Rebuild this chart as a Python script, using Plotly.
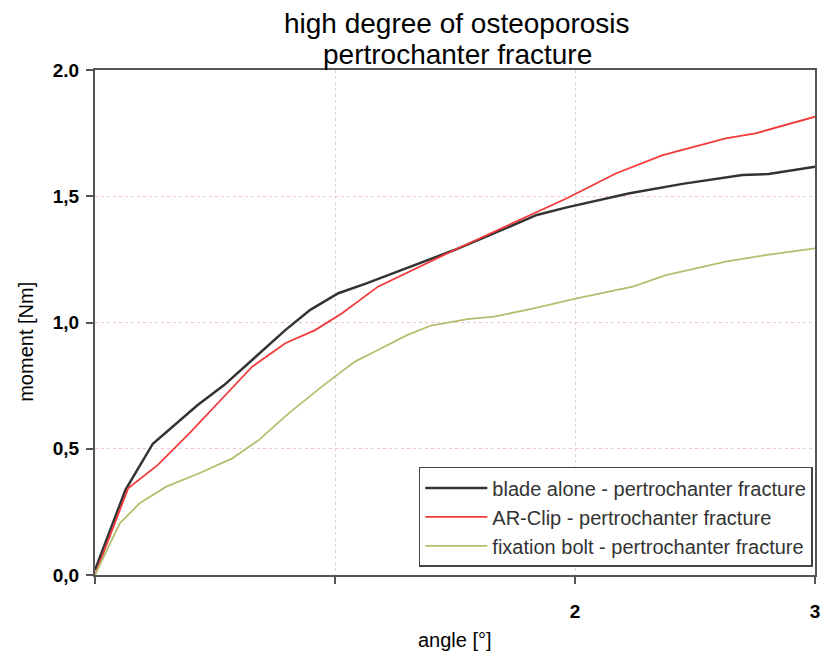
import plotly.graph_objects as go

# ---- data ----
blade_x = [0, 0.127, 0.241, 0.276, 0.428, 0.538, 0.662, 0.793, 0.897, 1.014, 1.131,
           1.317, 1.497, 1.662, 1.841, 1.966, 2.228, 2.448, 2.697, 2.807, 3.0]
blade_y = [0.02, 0.337, 0.52, 0.548, 0.673, 0.752, 0.858, 0.970, 1.05, 1.116, 1.155,
           1.221, 1.287, 1.353, 1.426, 1.456, 1.512, 1.549, 1.584, 1.588, 1.617]

clip_x = [0, 0.138, 0.262, 0.393, 0.531, 0.655, 0.793, 0.917, 1.028, 1.179, 1.497,
          1.662, 1.841, 1.966, 2.172, 2.366, 2.628, 2.752, 3.0]
clip_y = [0, 0.343, 0.436, 0.561, 0.70, 0.825, 0.918, 0.970, 1.036, 1.142, 1.287,
          1.36, 1.439, 1.492, 1.591, 1.663, 1.729, 1.749, 1.815]

bolt_x = [0, 0.103, 0.186, 0.297, 0.434, 0.572, 0.683, 0.807, 0.945, 1.083, 1.179,
          1.30, 1.40, 1.552, 1.662, 1.828, 2.007, 2.241, 2.379, 2.628, 2.793, 3.0]
bolt_y = [0, 0.205, 0.284, 0.35, 0.403, 0.462, 0.535, 0.64, 0.746, 0.845, 0.891,
          0.950, 0.988, 1.013, 1.023, 1.056, 1.096, 1.142, 1.188, 1.241, 1.267, 1.294]

series_names = ["blade alone - pertrochanter fracture",
                "AR-Clip - pertrochanter fracture",
                "fixation bolt - pertrochanter fracture"]

x_tickvals = [0, 1, 2, 3]
x_ticktext = ["", "", "2", "3"]
y_tickvals = [0, 0.5, 1.0, 1.5, 2.0]
y_ticktext = ["0,0", "0,5", "1,0", "1,5", "2.0"]

title_lines = ["high degree of osteoporosis", "pertrochanter fracture"]
x_title = "angle [°]"
y_title = "moment [Nm]"

FONT = "Liberation Sans, Arial, sans-serif"

fig = go.Figure()
fig.add_trace(go.Scatter(x=blade_x, y=blade_y, mode="lines", name=series_names[0],
                         line=dict(color="#333333", width=2.5)))
fig.add_trace(go.Scatter(x=clip_x, y=clip_y, mode="lines", name=series_names[1],
                         line=dict(color="#f23a3a", width=1.8)))
fig.add_trace(go.Scatter(x=bolt_x, y=bolt_y, mode="lines", name=series_names[2],
                         line=dict(color="#b3bf6e", width=1.8)))

fig.update_layout(
    width=829, height=670,
    margin=dict(l=95, r=9, t=70, b=95),
    paper_bgcolor="white", plot_bgcolor="white",
    font=dict(family=FONT, color="black"),
    showlegend=True,
    legend=dict(x=0.997, y=0.016, xanchor="right", yanchor="bottom",
                bgcolor="white", bordercolor="#444444", borderwidth=1.5,
                font=dict(size=20, color="#333333", family=FONT),
                tracegroupgap=0, itemwidth=62),
    xaxis=dict(range=[0, 3], tickmode="array", tickvals=x_tickvals, ticktext=x_ticktext,
               showline=True, linecolor="#555555", linewidth=2, mirror=True,
               ticks="outside", ticklen=7, tickcolor="#555555", tickwidth=2,
               showgrid=True, gridcolor="#d6d6d6", griddash="dot", gridwidth=1,
               zeroline=False,
               tickfont=dict(size=19, color="black", weight="bold"),
               ticklabelstandoff=11),
    yaxis=dict(range=[0, 2], tickmode="array", tickvals=y_tickvals, ticktext=y_ticktext,
               showline=True, linecolor="#555555", linewidth=2, mirror=True,
               ticks="outside", ticklen=7, tickcolor="#555555", tickwidth=2,
               showgrid=True, gridcolor="#f0c4cc", griddash="dot", gridwidth=1,
               zeroline=False,
               tickfont=dict(size=19, color="black", weight="bold"),
               ticklabelstandoff=3),
    annotations=[
        dict(text=title_lines[0], xref="paper", yref="paper", x=0.503, y=1.092,
             xanchor="center", yanchor="middle", showarrow=False,
             font=dict(size=28, family=FONT, color="black")),
        dict(text=title_lines[1], xref="paper", yref="paper", x=0.503, y=1.0305,
             xanchor="center", yanchor="middle", showarrow=False,
             font=dict(size=28, family=FONT, color="black")),
        dict(text=x_title, xref="paper", yref="paper", x=0.5, y=-0.129,
             xanchor="center", yanchor="middle", showarrow=False,
             font=dict(size=20, family=FONT, color="black")),
        dict(text=y_title, xref="paper", yref="paper", x=-0.095, y=0.461,
             xanchor="center", yanchor="middle", showarrow=False, textangle=-90,
             font=dict(size=20, family=FONT, color="black")),
    ],
)

fig.write_html("out.html")
